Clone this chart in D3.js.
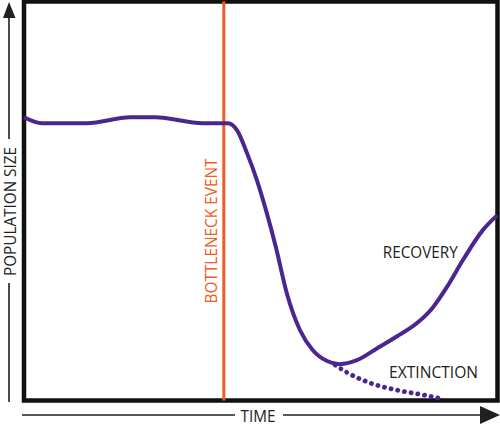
<!DOCTYPE html>
<html>
<head>
<meta charset="utf-8">
<script src="https://cdn.jsdelivr.net/npm/d3@7"></script>
<style>
  html, body { margin: 0; padding: 0; background: #fff; }
  svg { display: block; }
  text { font-family: "Open Sans", "DejaVu Sans", sans-serif; }
</style>
</head>
<body>
<div id="chart"></div>
<script>
// ---- data ----
const mainTime = [0, 3.8, 13.3, 22.4, 27.7, 37.8, 43.1, 45.0, 47.1, 49.2, 51.3, 53.2, 55.5, 58.3, 61.0, 64.0, 66.7, 70.3, 74.6, 78.8, 83.0, 86.4, 89.3, 92.7, 96.9, 99.9];
const mainPop  = [71.0, 69.5, 69.5, 71.0, 71.0, 69.5, 69.5, 67.7, 62.0, 55.2, 46.9, 38.4, 26.9, 17.6, 12.6, 9.9, 9.1, 10.1, 13.1, 16.1, 19.4, 23.4, 28.4, 35.2, 42.7, 46.4];
const extTime  = [65.7, 68.4, 73.1, 78.8, 84.3, 88.3];
const extPop   = [8.9, 6.9, 4.4, 2.6, 1.4, 0.4];
const bottleneckTime = 42.2;
const labelNames = ["RECOVERY", "EXTINCTION"];
const labelTime  = [83.7, 86.5];
const labelPop   = [35.7, 5.6];
const axisTitles = ["TIME", "POPULATION SIZE"];
const eventLabel = "BOTTLENECK EVENT";

// ---- layout ----
const W = 500, H = 426;
const box = {left: 24, right: 497.5, top: 1.5, bottom: 400.5};
const purple = "#4b2690", orange = "#f05a24", ink = "#231f20";

const svg = d3.select("#chart").append("svg").attr("width", W).attr("height", H);

const x = d3.scaleLinear().domain([0, 100]).range([box.left, box.right]);
const y = d3.scaleLinear().domain([0, 100]).range([box.bottom, box.top]);

// frame
svg.append("rect")
  .attr("x", x(0)).attr("y", y(100))
  .attr("width", x(100) - x(0)).attr("height", y(0) - y(100))
  .attr("fill", "none").attr("stroke", "#111").attr("stroke-width", 4.5);

// bottleneck line
svg.append("line")
  .attr("x1", x(bottleneckTime)).attr("x2", x(bottleneckTime))
  .attr("y1", y(100)).attr("y2", y(0))
  .attr("stroke", orange).attr("stroke-width", 3);

svg.append("text")
  .attr("transform", `translate(${x(bottleneckTime) - 7},231) rotate(-90)`)
  .attr("text-anchor", "middle")
  .attr("font-size", 17)
  .attr("fill", orange)
  .attr("textLength", 145).attr("lengthAdjust", "spacingAndGlyphs")
  .text(eventLabel);

// population curves
const mainData = mainTime.map((t, i) => [t, mainPop[i]]);
const extData = extTime.map((t, i) => [t, extPop[i]]);
const line = d3.line().x(d => x(d[0])).y(d => y(d[1])).curve(d3.curveMonotoneX);

svg.append("path")
  .attr("d", line(extData))
  .attr("fill", "none").attr("stroke", purple).attr("stroke-width", 4.8)
  .attr("stroke-linecap", "round").attr("stroke-dasharray", "0.1 6.7");

svg.append("path")
  .attr("d", line(mainData))
  .attr("fill", "none").attr("stroke", purple).attr("stroke-width", 4)
  .attr("stroke-linejoin", "round");

// outcome labels
const lw = [75, 89];
svg.selectAll("text.lab").data(labelNames).join("text")
  .attr("class", "lab")
  .attr("x", (d, i) => x(labelTime[i]))
  .attr("y", (d, i) => y(labelPop[i]))
  .attr("text-anchor", "middle")
  .attr("font-size", 17)
  .attr("fill", ink)
  .attr("textLength", (d, i) => lw[i]).attr("lengthAdjust", "spacingAndGlyphs")
  .text(d => d);

// x axis arrow
const ax = svg.append("g").attr("stroke", ink).attr("stroke-width", 1.6);
ax.append("line").attr("x1", 22).attr("x2", 235).attr("y1", 415).attr("y2", 415);
ax.append("line").attr("x1", 283).attr("x2", 482).attr("y1", 415).attr("y2", 415);
svg.append("path").attr("d", "M480,406 L500,415 L480,424 Z").attr("fill", ink);
svg.append("text")
  .attr("x", 258).attr("y", 422)
  .attr("text-anchor", "middle").attr("font-size", 17).attr("fill", ink)
  .attr("textLength", 35).attr("lengthAdjust", "spacingAndGlyphs")
  .text(axisTitles[0]);

// y axis arrow
ax.append("line").attr("x1", 9).attr("x2", 9).attr("y1", 402).attr("y2", 283);
ax.append("line").attr("x1", 9).attr("x2", 9).attr("y1", 139).attr("y2", 16);
svg.append("path").attr("d", "M9,2 L3,18 L15.5,18 Z").attr("fill", ink);
svg.append("text")
  .attr("transform", "translate(15.5,211.5) rotate(-90)")
  .attr("text-anchor", "middle").attr("font-size", 15.5).attr("fill", ink)
  .attr("textLength", 129).attr("lengthAdjust", "spacingAndGlyphs")
  .text(axisTitles[1]);
</script>
</body>
</html>
